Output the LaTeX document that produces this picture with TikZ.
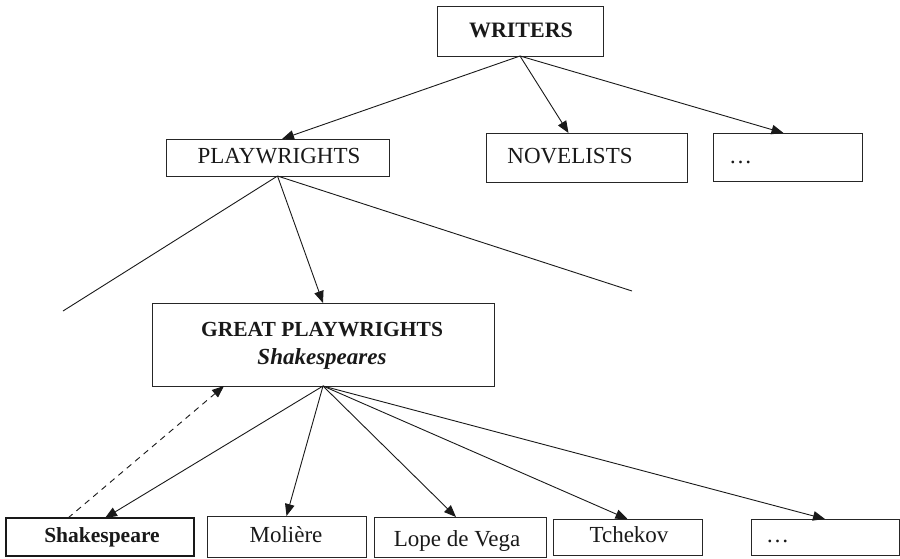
\documentclass[tikz,border=0pt]{standalone}
\usepackage{fontspec}
\setmainfont{Liberation Serif}
\usetikzlibrary{arrows.meta,calc}
\begin{document}
\begin{tikzpicture}[x=1pt,y=-1pt,
  box/.style={draw=black!85,line width=1pt,inner sep=0pt,outer sep=0pt},
  thickbox/.style={box,line width=2pt,draw=black!90},
  txt/.style={anchor=base,inner sep=0pt,text=black!90,font=\fontsize{23}{26}\selectfont},
  btxt/.style={txt,font=\fontsize{22}{26}\selectfont\bfseries},
  conn/.style={line width=0.9pt,draw=black!90,-{Triangle[length=12pt,width=9.5pt]}},
  plainline/.style={line width=0.9pt,draw=black!90},
  dashconn/.style={conn,dash pattern=on 6pt off 5pt}]
\useasboundingbox (0,0) rectangle (900,558);
% boxes
\node[box,minimum width=166pt,minimum height=50pt] (W) at (520,31) {};
\node[box,minimum width=223pt,minimum height=37pt] (P) at (277.5,157.5) {};
\node[box,minimum width=201pt,minimum height=49pt] (N) at (586.5,157.5) {};
\node[box,minimum width=149pt,minimum height=48pt] (D1) at (787.5,157) {};
\node[box,minimum width=342pt,minimum height=83pt] (G) at (323,344.5) {};
\node[thickbox,minimum width=188pt,minimum height=38pt] (S) at (100,537) {};
\node[box,minimum width=159pt,minimum height=41pt] (M) at (286.5,536.5) {};
\node[box,minimum width=172pt,minimum height=40pt] (L) at (460,537) {};
\node[box,minimum width=149pt,minimum height=36pt] (T) at (627.5,537) {};
\node[box,minimum width=148pt,minimum height=36pt] (D2) at (825,537) {};
% texts
\node[btxt] (Wt) at (521,37) {WRITERS};
\node[txt] (Pt) at (279,163) {PLAYWRIGHTS};
\node[txt] (Nt) at (570,163) {NOVELISTS};
\node[txt,anchor=base west] (D1t) at (729,163) {…};
\node[btxt,font=\fontsize{21.5}{26}\selectfont\bfseries] (Gt1) at (322,336) {GREAT PLAYWRIGHTS};
\node[btxt,font=\fontsize{23}{26}\selectfont\bfseries\itshape] (Gt2) at (322,364) {Shakespeares};
\node[btxt,font=\fontsize{21.5}{26}\selectfont\bfseries] (St) at (102,542) {Shakespeare};
\node[txt] (Mt) at (286,542) {Molière};
\node[txt] (Lt) at (457,546) {Lope de Vega};
\node[txt] (Tt) at (629,542) {Tchekov};
\node[txt,anchor=base west] (D2t) at (766,542) {…};
% connectors
\coordinate (lend) at (63,311);
\coordinate (rend) at (632,291);
\draw[conn] (W.south) -- ($(P.north)+(4.5,0)$);
\draw[conn] (W.south) -- ($(N.north)+(-18,0)$);
\draw[conn] (W.south) -- ($(D1.north)+(-4,0)$);
\draw[plainline] (P.south) -- (lend);
\draw[plainline] (P.south) -- (rend);
\draw[conn] (P.south) -- (G.north);
\draw[conn] (G.south) -- ($(S.north)+(5,0)$);
\draw[conn] (G.south) -- (M.north);
\draw[conn] (G.south) -- ($(L.north)+(-4,0)$);
\draw[conn] (G.south) -- (T.north);
\draw[conn] (G.south) -- (D2.north);
\draw[dashconn] ($(S.north west)+(62,0)$) -- ($(G.south west)+(72,0)$);
\end{tikzpicture}
\end{document}
